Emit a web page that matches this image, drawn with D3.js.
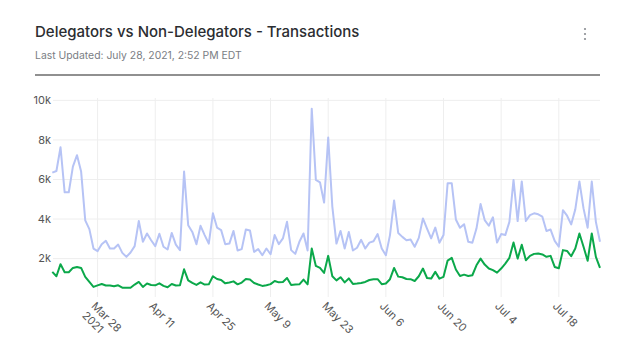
<!DOCTYPE html>
<html>
<head>
<meta charset="utf-8">
<script src="https://cdn.jsdelivr.net/npm/d3@7"></script>
<style>
  body { margin: 0; background: #fff; }
  svg { display: block; font-family: Inter, "Open Sans", sans-serif; }
</style>
</head>
<body>
<div id="chart"></div>
<script>
// daily values, Mar 17 2021 .. Jul 28 2021
const startDate = new Date(2021, 2, 17);
const endDate = new Date(2021, 6, 28);

const nonDelegatorTx = [
  6350, 6430, 7630, 5350, 5350, 6650, 7230, 6400, 3930, 3490, 2510, 2380, 2730, 2900, 2510, 2510, 2710, 2290, 2090, 2310, 2630, 3900, 2850, 3270, 2930, 2630, 3260,
  2600, 2460, 3300, 2710, 2430, 6400, 3690, 3350, 2730, 3660, 3190, 2760, 4290, 3570, 3440, 2730, 2760, 3400, 2410, 2480, 3470, 3420, 2340, 2480, 2170, 2510, 2220,
  3190, 2730, 3020, 3860, 2430, 2240, 2850, 3270, 2410, 9580, 5980, 5860, 4830, 8120, 4630, 2760, 3400, 2510, 3350, 2410, 2550, 2950, 2510, 2810, 2880, 3240, 2510,
  2170, 3190, 4940, 3300, 3100, 2930, 2970, 2600, 3050, 4030, 3520, 3020, 3570, 2800, 3190, 5810, 5810, 3980, 3560, 3740, 2850, 2800, 3520, 4760, 3950, 3660, 4090,
  2810, 3240, 3190, 3860, 5980, 3900, 5900, 3900, 4200, 4290, 4240, 4120, 3400, 3470, 2900, 2600, 4450, 4170, 3730, 4490, 5900, 4540, 3560, 5900, 3860, 2850
];

const delegatorTx = [
  1330, 1110, 1720, 1310, 1310, 1530, 1580, 1530, 1080, 820, 570, 650, 720, 640, 640, 600, 650, 530, 530, 530, 690, 820, 570, 740, 670, 650, 750,
  620, 550, 720, 640, 650, 1460, 900, 770, 670, 800, 690, 700, 1110, 970, 920, 750, 790, 850, 700, 790, 970, 940, 770, 690, 620, 650, 710,
  870, 800, 820, 1020, 670, 690, 700, 940, 700, 2510, 1630, 1530, 1280, 2140, 1110, 900, 1060, 800, 1000, 720, 740, 770, 820, 920, 960, 960, 710,
  740, 960, 1530, 1090, 1060, 970, 960, 870, 1110, 1500, 1020, 990, 1330, 990, 1080, 1900, 2040, 1450, 1120, 1190, 1120, 1160, 1660, 2000, 1700, 1500, 1420,
  1290, 1500, 1750, 2040, 2820, 2000, 2700, 1920, 2140, 2240, 2260, 2210, 2090, 2140, 1580, 1510, 2430, 2390, 2120, 2510, 3270, 2600, 1890, 3270, 2090, 1530
];

const yTicks = [2000, 4000, 6000, 8000, 10000];
const xTickDates = [
  new Date(2021, 2, 28), new Date(2021, 3, 11), new Date(2021, 3, 25), new Date(2021, 4, 9),
  new Date(2021, 4, 23), new Date(2021, 5, 6), new Date(2021, 5, 20), new Date(2021, 6, 4), new Date(2021, 6, 18)
];

const width = 644;
const height = 348;
const plot = { left: 53, right: 600, top: 98, bottom: 297 };

const days = d3.timeDay.range(startDate, d3.timeDay.offset(endDate, 1));

const svg = d3.select('#chart')
  .append('svg')
  .attr('width', width)
  .attr('height', height);

// header
svg.append('text')
  .attr('x', 35)
  .attr('y', 37)
  .attr('fill', '#2b2d31')
  .style('font-size', '15px')
  .style('font-weight', 500)
  .text('Delegators vs Non-Delegators - Transactions');

svg.append('text')
  .attr('x', 35)
  .attr('y', 59)
  .attr('fill', '#7a7d84')
  .style('font-size', '10.4px')
  .text('Last Updated: July 28, 2021, 2:52 PM EDT');

svg.append('g')
  .selectAll('circle')
  .data([0, 1, 2])
  .enter()
  .append('circle')
  .attr('cx', 585)
  .attr('cy', d => 29 + d * 5)
  .attr('r', 1.1)
  .attr('fill', '#8a8d93');

svg.append('line')
  .attr('x1', 35).attr('x2', 600)
  .attr('y1', 75).attr('y2', 75)
  .attr('stroke', '#222')
  .attr('stroke-width', 1.2);

// scales
const x = d3.scaleTime()
  .domain([startDate, endDate])
  .range([52.3, 600]);

const y = d3.scaleLinear()
  .domain([60, 10120])
  .range([plot.bottom, plot.top]);

// grid
svg.append('g')
  .selectAll('line')
  .data(yTicks)
  .enter()
  .append('line')
  .attr('x1', plot.left).attr('x2', plot.right)
  .attr('y1', d => y(d)).attr('y2', d => y(d))
  .attr('stroke', '#eeeeee')
  .attr('stroke-width', 1);

svg.append('g')
  .selectAll('line')
  .data(xTickDates)
  .enter()
  .append('line')
  .attr('x1', d => x(d)).attr('x2', d => x(d))
  .attr('y1', plot.top).attr('y2', plot.bottom)
  .attr('stroke', '#eeeeee')
  .attr('stroke-width', 1);

// y labels
svg.append('g')
  .selectAll('text')
  .data(yTicks)
  .enter()
  .append('text')
  .attr('x', 51)
  .attr('y', d => y(d))
  .attr('dy', '0.35em')
  .attr('text-anchor', 'end')
  .attr('fill', '#555')
  .style('font-size', '11px')
  .text(d => d3.format('~s')(d));

// x labels, rotated
const fmt = d3.timeFormat('%b %-d');
const xl = svg.append('g')
  .selectAll('text')
  .data(xTickDates)
  .enter()
  .append('text')
  .attr('transform', d => `translate(${x(d) - 1},301) rotate(45)`)
  .attr('fill', '#555')
  .style('font-size', '11px');

xl.append('tspan')
  .attr('x', 0)
  .attr('dy', '0.75em')
  .text(d => fmt(d));

xl.filter((d, i) => i === 0)
  .append('tspan')
  .attr('x', 0)
  .attr('dy', '1.2em')
  .text(d => d.getFullYear());

// lines
const line = d3.line()
  .x((d, i) => x(days[i]))
  .y(d => y(d));

svg.append('path')
  .datum(nonDelegatorTx)
  .attr('fill', 'none')
  .attr('stroke', '#b6c3f5')
  .attr('stroke-width', 2)
  .attr('stroke-linejoin', 'round')
  .attr('d', line);

svg.append('path')
  .datum(delegatorTx)
  .attr('fill', 'none')
  .attr('stroke', '#0ba84a')
  .attr('stroke-width', 2)
  .attr('stroke-linejoin', 'round')
  .attr('d', line);
</script>
</body>
</html>
